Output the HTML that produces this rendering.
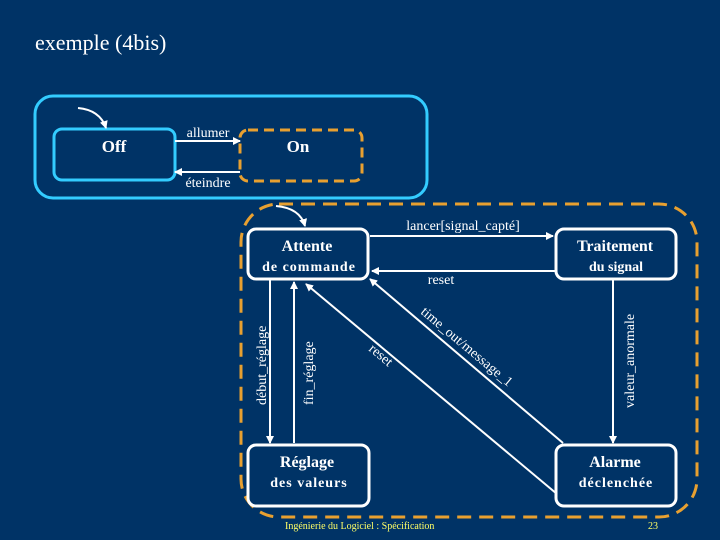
<!DOCTYPE html>
<html><head><meta charset="utf-8"><style>
html,body{margin:0;padding:0;background:#003366;}
svg{display:block}
text{font-family:"Liberation Serif",serif;fill:#fff}
</style></head><body>
<svg width="720" height="540" viewBox="0 0 720 540" xmlns="http://www.w3.org/2000/svg">
<defs>
<marker id="a" markerWidth="8" markerHeight="8" refX="7" refY="4" orient="auto" markerUnits="userSpaceOnUse"><path d="M0,0 L8,4 L0,8 z" fill="#fff"/></marker>
</defs>
<rect width="720" height="540" fill="#003366"/>
<text x="35" y="50" font-size="22">exemple (4bis)</text>

<rect x="35" y="96" width="392" height="102" rx="18" fill="none" stroke="#33ccff" stroke-width="3"/>
<rect x="54" y="129" width="121" height="51" rx="8" fill="none" stroke="#33ccff" stroke-width="3"/>
<text x="114" y="152" font-size="17" font-weight="bold" text-anchor="middle">Off</text>
<rect x="240" y="130" width="122" height="51" rx="8" fill="none" stroke="#e8a030" stroke-width="3" stroke-dasharray="10,6"/>
<text x="298" y="152" font-size="17" font-weight="bold" text-anchor="middle">On</text>
<path d="M78,108 Q100,110 106,128" fill="none" stroke="#fff" stroke-width="2" marker-end="url(#a)"/>
<line x1="175" y1="141" x2="240" y2="141" stroke="#fff" stroke-width="2" marker-end="url(#a)"/>
<text x="208" y="137" font-size="14" text-anchor="middle">allumer</text>
<line x1="240" y1="172" x2="175" y2="172" stroke="#fff" stroke-width="2" marker-end="url(#a)"/>
<text x="208" y="187" font-size="14" text-anchor="middle">éteindre</text>

<rect x="241" y="204" width="456" height="313" rx="38" fill="none" stroke="#e8a030" stroke-width="3" stroke-dasharray="14,8"/>
<path d="M276,206 Q300,208 305,226" fill="none" stroke="#fff" stroke-width="2" marker-end="url(#a)"/>

<g fill="none" stroke="#fff" stroke-width="3">
<rect x="248" y="229" width="120" height="50" rx="8"/>
<rect x="556" y="229" width="120" height="50" rx="8"/>
<rect x="248" y="445" width="121" height="61" rx="8"/>
<rect x="556" y="445" width="120" height="61" rx="8"/>
</g>
<text x="307" y="251" font-size="16" font-weight="bold" text-anchor="middle">Attente</text>
<text x="309" y="271" font-size="14" font-weight="bold" text-anchor="middle" letter-spacing="1">de commande</text>
<text x="615" y="251" font-size="16" font-weight="bold" text-anchor="middle">Traitement</text>
<text x="616" y="271" font-size="14" font-weight="bold" text-anchor="middle">du signal</text>
<text x="307" y="467" font-size="16" font-weight="bold" text-anchor="middle">Réglage</text>
<text x="309" y="487" font-size="14" font-weight="bold" text-anchor="middle" letter-spacing="1">des valeurs</text>
<text x="615" y="467" font-size="16" font-weight="bold" text-anchor="middle">Alarme</text>
<text x="616" y="487" font-size="14" font-weight="bold" text-anchor="middle" letter-spacing="1">déclenchée</text>

<g stroke="#fff" stroke-width="2" fill="none">
<line x1="370" y1="236" x2="553" y2="236" marker-end="url(#a)"/>
<line x1="555" y1="271" x2="372" y2="271" marker-end="url(#a)"/>
<line x1="270" y1="280" x2="270" y2="443" marker-end="url(#a)"/>
<line x1="294" y1="443" x2="294" y2="282" marker-end="url(#a)"/>
<line x1="613" y1="280" x2="613" y2="443" marker-end="url(#a)"/>
<line x1="557" y1="494" x2="306" y2="284" marker-end="url(#a)"/>
<line x1="563" y1="443" x2="370" y2="279" marker-end="url(#a)"/>
</g>
<text x="463" y="230" font-size="14" text-anchor="middle">lancer[signal_capté]</text>
<text x="441" y="284" font-size="14" text-anchor="middle">reset</text>
<text transform="translate(266,405) rotate(-90)" font-size="14">début_réglage</text>
<text transform="translate(313,405) rotate(-90)" font-size="14">fin_réglage</text>
<text transform="translate(634,408) rotate(-90)" font-size="14">valeur_anormale</text>
<text transform="translate(368,350) rotate(40)" font-size="14">reset</text>
<text transform="translate(420,313) rotate(40)" font-size="14">time_out/message_1</text>

<text x="285" y="529" font-size="10" style="fill:#ffff66">Ingénierie du Logiciel : Spécification</text>
<text x="648" y="529" font-size="10" style="fill:#ffff66">23</text>
</svg>
</body></html>
